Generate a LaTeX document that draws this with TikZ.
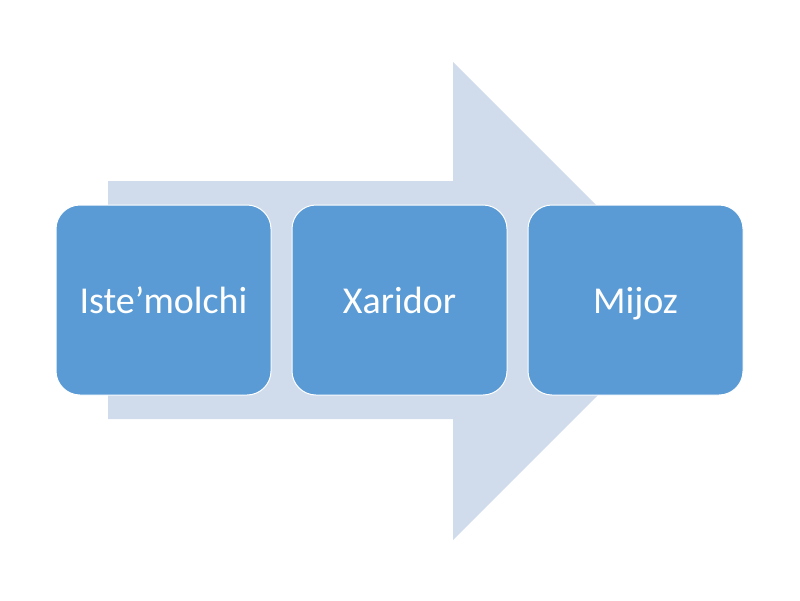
\documentclass[tikz,border=0pt]{standalone}
\usepackage{fontspec}
\setmainfont{Carlito}
\definecolor{arrowc}{HTML}{D0DCEC}
\definecolor{boxc}{HTML}{5B9BD5}
\begin{document}
\begin{tikzpicture}[x=1pt,y=-1pt,
  stagebox/.style={rectangle, rounded corners=24pt, fill=boxc, draw=white, line width=1pt,
    minimum width=215pt, minimum height=190pt, text=white, font=\fontsize{38}{44}\selectfont,
    inner sep=0pt, text height=26pt, text depth=0pt}]
\useasboundingbox (0,0) rectangle (800,600);
\fill[arrowc] (108,181) -- (453,181) -- (453,62) -- (692,301) -- (453,540) -- (453,419) -- (108,419) -- cycle;
\node[stagebox] (a) at (163.5,300) {Iste’molchi};
\node[stagebox] (b) at (399.5,300) {Xaridor};
\node[stagebox] (c) at (635.5,300) {Mijoz};
\end{tikzpicture}
\end{document}
